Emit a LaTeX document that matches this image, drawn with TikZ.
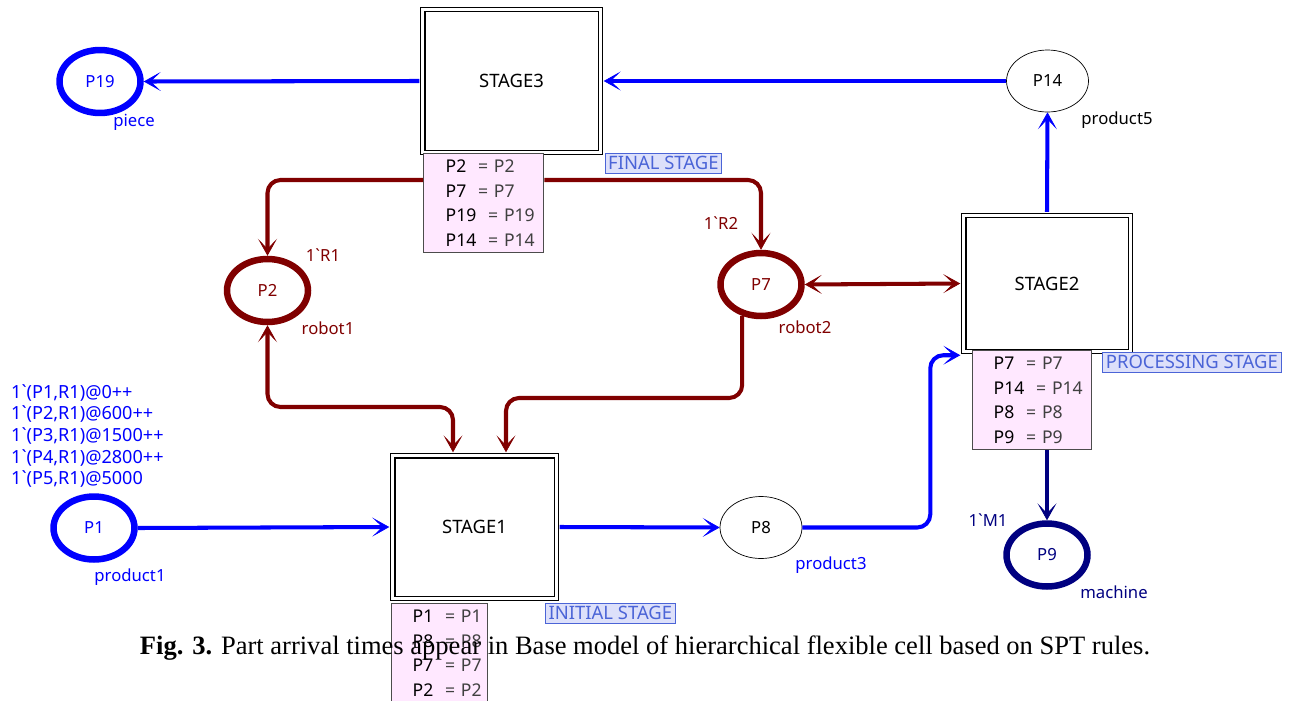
\documentclass[tikz,border=0pt]{standalone}
\usepackage{fontspec}
\setmainfont{Liberation Serif}
\newfontfamily\cpn{Noto Sans}
\usetikzlibrary{arrows.meta,shapes.geometric}
\definecolor{cpnblue}{RGB}{0,0,255}
\definecolor{cpnred}{RGB}{128,0,0}
\definecolor{cpnnavy}{RGB}{0,0,128}
\definecolor{tabpink}{RGB}{255,232,255}
\definecolor{tagfill}{RGB}{221,224,250}
\definecolor{tagblue}{RGB}{75,100,215}
\newcommand\bind[2]{\mbox{#1~~\textcolor{black!75}{=~#2}}}

\begin{document}
\begin{tikzpicture}[x=0.02cm, y=-0.02cm,
  >={Stealth[length=0.34cm, width=0.38cm, inset=0.2cm, line width=0.4pt]},
  pl/.style={ellipse, draw, minimum width=1.64cm, minimum height=1.24cm,
             inner sep=0pt, font=\cpn\fontsize{9.5}{11}\selectfont},
  fatpl/.style={pl, line width=3.7pt, minimum width=1.62cm, minimum height=1.26cm},
  stage/.style={rectangle, draw, double, line width=0.7pt, double distance=0.06cm,
                fill=white, outer sep=0.07cm, font=\cpn\fontsize{10.5}{12}\selectfont},
  tab/.style={rectangle, draw=black!70, line width=0.8pt, fill=tabpink, anchor=north west,
              align=left, minimum height=1.98cm, inner ysep=0pt,
              font=\cpn\fontsize{10}{14}\selectfont},
  tag/.style={rectangle, draw=tagblue, fill=tagfill, text=tagblue, anchor=north west,
              minimum height=0.4cm, inner sep=1pt, font=\cpn\fontsize{10.5}{11}\selectfont},
  lbl/.style={font=\cpn\fontsize{9.5}{11}\selectfont},
  cpnarc/.style={->, line width=2.3pt, rounded corners=0.26cm},
  barc/.style={cpnarc, cpnblue},
  rarc/.style={cpnarc, cpnred}
]
\useasboundingbox (0,0) rectangle (1295,700);

\node[stage, minimum width=3.55cm, minimum height=2.85cm] (S3) at (511.5,81)  {STAGE3};
\node[stage, minimum width=3.33cm, minimum height=2.73cm] (S2) at (1047,283.5) {STAGE2};
\node[stage, minimum width=3.27cm, minimum height=2.85cm] (S1) at (474.5,527) {STAGE1};

\node[tab, minimum width=2.4cm, text width=1.52cm, inner xsep=0.44cm] (t3) at (423,153)
  {\bind{P2}{P2}\\\bind{P7}{P7}\\\bind{P19}{P19}\\\bind{P14}{P14}};
\node[tab, minimum width=2.38cm, text width=1.54cm, inner xsep=0.42cm] (t2) at (972,350)
  {\bind{P7}{P7}\\\bind{P14}{P14}\\\bind{P8}{P8}\\\bind{P9}{P9}};
\node[tab, minimum width=1.92cm, text width=1.08cm, inner xsep=0.42cm] (t1) at (391,603)
  {\bind{P1}{P1}\\\bind{P8}{P8}\\\bind{P7}{P7}\\\bind{P2}{P2}};

\node[tag, minimum width=2.32cm] (g3) at (605,153)  {FINAL STAGE};
\node[tag, minimum width=3.58cm] (g2) at (1102,352) {PROCESSING STAGE};
\node[tag, minimum width=2.6cm]  (g1) at (545,603)  {INITIAL STAGE};

\node[fatpl, draw=cpnblue, text=cpnblue] (P19) at (100,81.5)  {P19};
\node[pl]                                (P14) at (1047.5,81) {P14};
\node[fatpl, draw=cpnred, text=cpnred]   (P2)  at (267.5,290.5) {P2};
\node[fatpl, draw=cpnred, text=cpnred]   (P7)  at (761,284.5) {P7};
\node[fatpl, draw=cpnblue, text=cpnblue] (P1)  at (94,528)    {P1};
\node[pl]                                (P8)  at (761,527.5) {P8};
\node[fatpl, draw=cpnnavy, text=cpnnavy] (P9)  at (1047,555)  {P9};

\node[lbl, text=cpnblue] (n19) at (134,122)  {piece};
\node[lbl]               (n14) at (1117,120) {product5};
\node[lbl, text=cpnred]  (m2)  at (323,255)  {1\textasciigrave R1};
\node[lbl, text=cpnred]  (n2)  at (328,328)  {robot1};
\node[lbl, text=cpnred]  (m7)  at (721,223)  {1\textasciigrave R2};
\node[lbl, text=cpnred]  (n7)  at (805,327)  {robot2};
\node[lbl, text=cpnblue, anchor=west, align=left, font=\cpn\fontsize{10.3}{12.3}\selectfont]
  (m1) at (5,436) {1\textasciigrave(P1,R1)@0++\\1\textasciigrave(P2,R1)@600++\\
  1\textasciigrave(P3,R1)@1500++\\1\textasciigrave(P4,R1)@2800++\\1\textasciigrave(P5,R1)@5000};
\node[lbl, text=cpnblue] (n1)  at (130,577)  {product1};
\node[lbl, text=cpnblue] (n8)  at (831,565)  {product3};
\node[lbl, text=cpnnavy] (m9)  at (988,520)  {1\textasciigrave M1};
\node[lbl, text=cpnnavy] (n9)  at (1114,592) {machine};

\coordinate (k2) at ([xshift=-0.43cm]S1.north);
\coordinate (k7) at ([xshift=0.63cm]S1.north);
\coordinate (o7) at (P7.-121);

\draw[barc] (S3.west) -- (P19.east);
\draw[barc] (P14.west) -- (S3.east);
\draw[barc] (S2.north) -- (P14.south);
\draw[barc] (P1.east) -- (S1.west);
\draw[barc] (S1.east) -- (P8.west);
\draw[barc] (P8.east) -| ([xshift=-0.6cm]S2.south west) -- (S2.south west);
\draw[rarc] (t3.west |- 0,180) -| (P2.north);
\draw[rarc] (t3.east |- 0,180) -| (P7.north);
\draw[rarc, <->] (P2.south) -- (P2.south |- 0,407) -| (k2);
\draw[rarc] (o7) -- (o7 |- 0,398) -| (k7);
\draw[rarc, <->] (P7.east) -- (S2.west);
\draw[cpnarc, cpnnavy] (P9.north |- t2.south) -- (P9.north);

\node[font=\fontsize{15.1}{17}\selectfont] (cap) at (645,648)
  {\textbf{Fig. 3.} Part arrival times appear in Base model of hierarchical flexible cell based on SPT rules.};
\end{tikzpicture}
\end{document}
